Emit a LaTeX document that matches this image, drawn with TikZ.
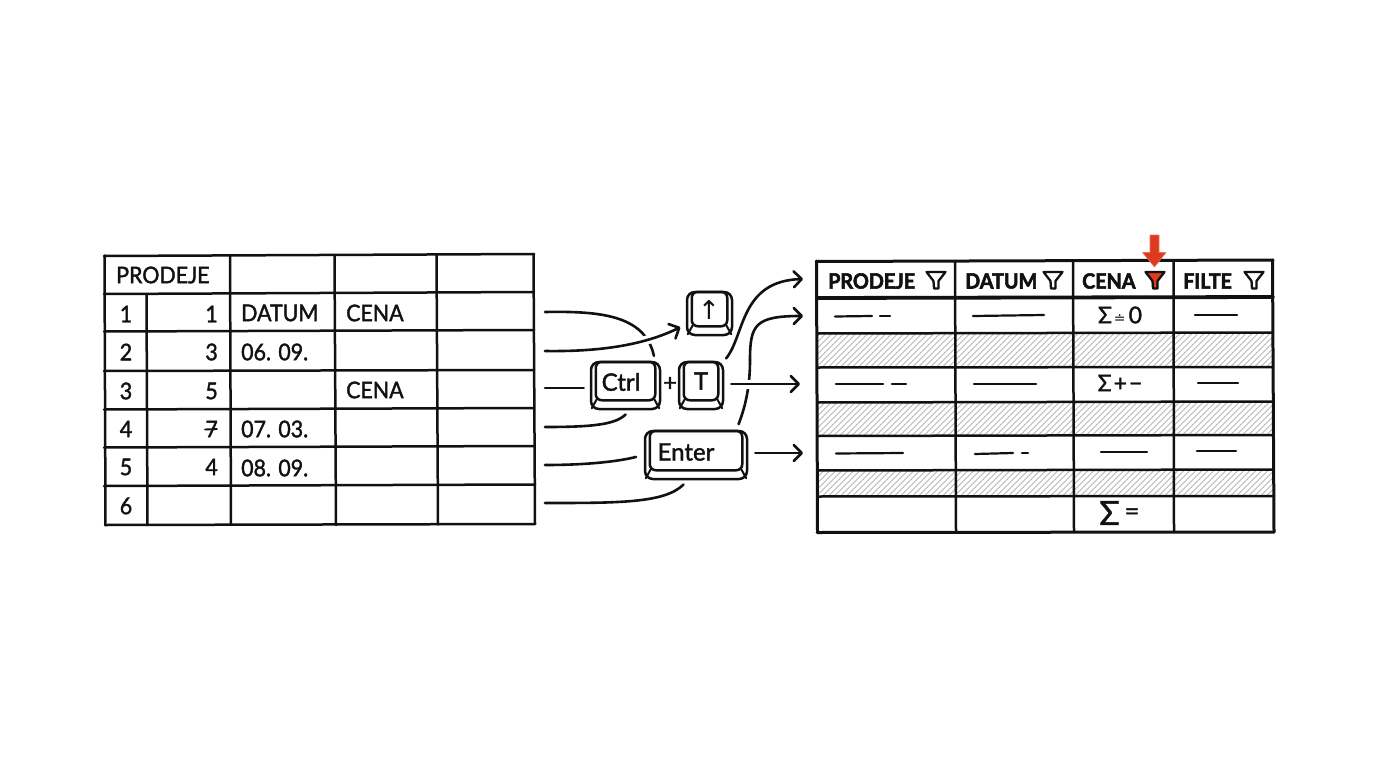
\documentclass[tikz,border=0pt]{standalone}
\usepackage{fontspec}
\setmainfont{Lato}
\newfontfamily\symf{DejaVu Sans}
\newfontfamily\hand[FakeBold=1.6,FakeStretch=0.93]{Lato}
\newfontfamily\handk[FakeBold=1.6]{Lato}
\newfontfamily\handb[FakeBold=2.6,FakeStretch=0.94]{Lato Bold}
\usetikzlibrary{arrows.meta,calc}
\definecolor{redmark}{HTML}{DE3A1E}
\definecolor{ink}{HTML}{111111}
\tikzset{
  grid/.style={line width=2.5pt,draw=ink,line cap=round},
  outer/.style={line width=3pt,draw=ink,line cap=round},
  headrule/.style={line width=3.8pt,draw=ink,line cap=round},
  dashline/.style={line width=2.2pt,draw=ink,line cap=round},
  hatchline/.style={line width=.65pt,draw=black!42},
  conn/.style={line width=2.6pt,draw=ink,line cap=round,line join=round},
  tipped/.style={conn,-{Straight Barb[length=8pt,width=16pt,line width=2.6pt,round]}},
  halo/.style={preaction={draw=white,line width=9pt,-}},
  cell/.style={inner sep=0pt,text=ink,font=\hand\fontsize{23}{23}\selectfont},
  headtext/.style={inner sep=0pt,text=ink,font=\handb\fontsize{21}{21}\selectfont,anchor=west},
  sumtext/.style={inner sep=0pt,text=ink,font=\handk\fontsize{23}{23}\selectfont},
  keybox/.style={draw=ink,line width=2.5pt,rounded corners=8pt,inner sep=0pt,fill=white},
  keyface/.style={draw=ink,line width=2.5pt,rounded corners=6pt},
  keytext/.style={inner sep=0pt,text=ink,font=\handk\fontsize{24}{24}\selectfont},
  funnelline/.style={line width=2.3pt,draw=ink,line join=round},
}
\newcommand{\keycap}[6]{%
  \node[keybox,minimum width=#4pt,minimum height=#5pt] (#1) at (#2,#3) {};
  \draw[keyface] ([xshift=6pt,yshift=-1pt]#1.north west) rectangle ([xshift=-6pt,yshift=10pt]#1.south east);
  \draw[conn,line width=2pt] ([xshift=7pt,yshift=11pt]#1.south west) -- ([xshift=2pt,yshift=2pt]#1.south west);
  \draw[conn,line width=2pt] ([xshift=-7pt,yshift=11pt]#1.south east) -- ([xshift=-2pt,yshift=2pt]#1.south east);
}
\newcommand{\funnel}[3]{%
  \draw[funnelline,fill=#3] (#1-9.5,#2-8) -- (#1+9.5,#2-8) -- (#1+2.5,#2+1) -- (#1+2.5,#2+8.5) -- (#1-2,#2+8.5) -- (#1-2.5,#2+1) -- cycle;
}
\begin{document}
\begin{tikzpicture}[x=1pt,y=-1pt]
\useasboundingbox (0,0) rectangle (1376,768);
\fill[white] (0,0) rectangle (1376,768);

% ---------- left table
\draw[grid] (104,256)--(534,254);
\draw[grid] (104,294)--(534,292);
\draw[grid] (104,331.5)--(534,330);
\draw[grid] (104,371)--(534,370);
\draw[grid] (104,409.5)--(534,408);
\draw[grid] (104,447.5)--(534,446);
\draw[grid] (104,486)--(535,484.5);
\draw[grid] (105,525)--(535,524);
\draw[grid] (104.5,255.5)--(105.5,525);
\draw[grid] (146.5,294)--(147.5,525);
\draw[grid] (230,255.5)--(231,525);
\draw[grid] (334.5,255)--(336,525);
\draw[grid] (436.5,254.5)--(438,524.5);
\draw[grid] (533.5,254)--(535,524);

\node[cell,anchor=west] (lt) at (116,275) {PRODEJE};
\foreach \n/\yy in {1/314,2/352,3/391,4/429,5/467,6/506}
  \node[cell] (ln\n) at (126,\yy) {\n};
\foreach \n/\v/\yy in {a/1/314,b/3/352,c/5/391,d/7/429,e/4/467}
  \node[cell,anchor=east] (lv\n) at (218,\yy) {\v};
\draw[conn,line width=1.9pt] (205,429.5)--(217,429);
\node[cell,anchor=west] (ld1) at (241,313) {DATUM};
\node[cell,anchor=west] (ld2) at (241,352) {06. 09.};
\node[cell,anchor=west] (ld3) at (241,429) {07. 03.};
\node[cell,anchor=west] (ld4) at (241,468) {08. 09.};
\node[cell,anchor=west] (lc1) at (346,313) {CENA};
\node[cell,anchor=west] (lc2) at (346,390) {CENA};

% ---------- right table hatching
\foreach \ya/\yb in {333/367.5,402/435.5,470/496.5}{
  \begin{scope}
    \clip (817,\ya) rectangle (1273,\yb);
    \foreach \xx in {780,786,...,1300}
      \draw[hatchline] (\xx,\yb) -- ({\xx+\yb-\ya},\ya);
  \end{scope}
}
% ---------- right table grid
\draw[outer] (816,261.5)--(1273,260);
\draw[headrule] (817,298)--(1273,297);
\draw[grid] (817,333.5)--(1273,332.5);
\draw[grid] (817,367.5)--(1273,367);
\draw[grid] (817,402.5)--(1273,401.5);
\draw[grid] (817,436)--(1273,435);
\draw[grid] (817,470.5)--(1273,469.5);
\draw[grid] (817,496.5)--(1274,496);
\draw[outer] (817,532.5)--(1274,532);
\draw[outer] (816.5,261)--(817.5,532.5);
\draw[grid] (955,261)--(956,532);
\draw[grid] (1073,260.5)--(1074,532);
\draw[grid] (1173.5,260.5)--(1174,532);
\draw[outer] (1272.5,260)--(1274,532);

\node[headtext] (h1) at (828,281) {PRODEJE};
\node[headtext] (h2) at (965,281) {DATUM};
\node[headtext] (h3) at (1082,281) {CENA};
\node[headtext] (h4) at (1183,281) {FILTE};
\funnel{936}{280}{none}
\funnel{1053}{280}{none}
\funnel{1155}{280}{redmark}
\funnel{1254}{280}{none}

\foreach \xa/\ya/\xb/\yb in {835/316.5/872/316, 880/316/890/316, 973/316/1044/315, 1195/315/1237/315,
   836/384/883/384, 892/384/906/384, 974/384/1036/384, 1198/383/1238/383,
   836/453.5/903/453, 975/454/1013/453, 1022/453/1028/453, 1101/452/1147/452, 1197/451/1236/451}
  \draw[dashline] (\xa,\ya)--(\xb,\yb);

\node[sumtext] (s1) at (1120,315) {Σ\kern2pt{\symf\fontsize{14}{14}\selectfont ≐}\kern3pt 0};
\node[sumtext] (s2) at (1120,383) {Σ\kern2pt+\kern2pt−};
\node[sumtext,font=\handk\fontsize{33}{33}\selectfont] (s3a1) at (1109.5,513) {Σ};
\node[sumtext,font=\handk\fontsize{25}{25}\selectfont] (s3a2) at (1132,514) {=};

% red marker
\draw[redmark!70!white,line width=.6pt,fill=redmark,line join=round]
  (1150,235)--(1159,235)--(1159,252.5)--(1166,252.5)--(1154.5,267)--(1142.5,252.5)--(1150,252.5)--cycle;

% ---------- keys
\keycap{kup}{709.5}{313.5}{45}{43}{}
\keycap{kctrl}{625.5}{385.5}{69}{47}{}
\keycap{kt}{701}{385.5}{44}{47}{}
\keycap{kent}{696}{455}{102}{48}{}
\node[keytext,font=\symf\fontsize{26}{26}\selectfont] (lup) at (709,309.5) {↑};
\node[keytext] (lctrl) at (621,382) {Ctrl};
\node[keytext] (lt2) at (701,381) {T};
\node[keytext] (lent) at (686,452) {Enter};
\node[keytext] (plus) at (670,384) {+};

% ---------- connector ends
\coordinate (s1a) at (545,312);
\coordinate (s2a) at (545,351);
\coordinate (s3a) at (545,388);
\coordinate (s4a) at (545,427);
\coordinate (s5a) at (545,465);
\coordinate (s6a) at (545,503);
\coordinate (e1) at (803,279);
\coordinate (e2) at (803,316);
\coordinate (e3) at (800,384);
\coordinate (e4) at (803,453);
\coordinate (m2) at (750,360);

% ---------- connectors
\draw[conn,shorten >=5pt] (s1a) .. controls (600,311) and (645,315) .. (kctrl.40);
\draw[tipped,halo,shorten >=6pt] (s2a) .. controls (610,352) and (650,342) .. (kup.205);
\draw[conn,shorten >=6pt] (s3a) -- (s3a -| kctrl.west);
\draw[conn,shorten >=6pt] (s4a) .. controls (590,427) and (615,425) .. (kctrl.-80);
\draw[conn,shorten >=8pt] (s5a) .. controls (590,465) and (620,461) .. (kent.west);
\draw[conn,shorten >=6pt] (s6a) .. controls (620,503) and (665,503) .. (kent.-108);
\draw[tipped,shorten <=3pt] (kt.north east) .. controls (745,335) and (740,281) .. (e1);
\draw[conn,shorten <=6pt] (kent.32) .. controls (746,405) and (750,385) .. (m2);
\draw[tipped] (m2) .. controls (750,325) and (755,316) .. (e2);
\draw[tipped,halo,shorten <=7pt] (kt.east |- e3) -- (e3);
\draw[tipped,shorten <=7pt] (kent.east |- e4) -- (e4);
\end{tikzpicture}
\end{document}
